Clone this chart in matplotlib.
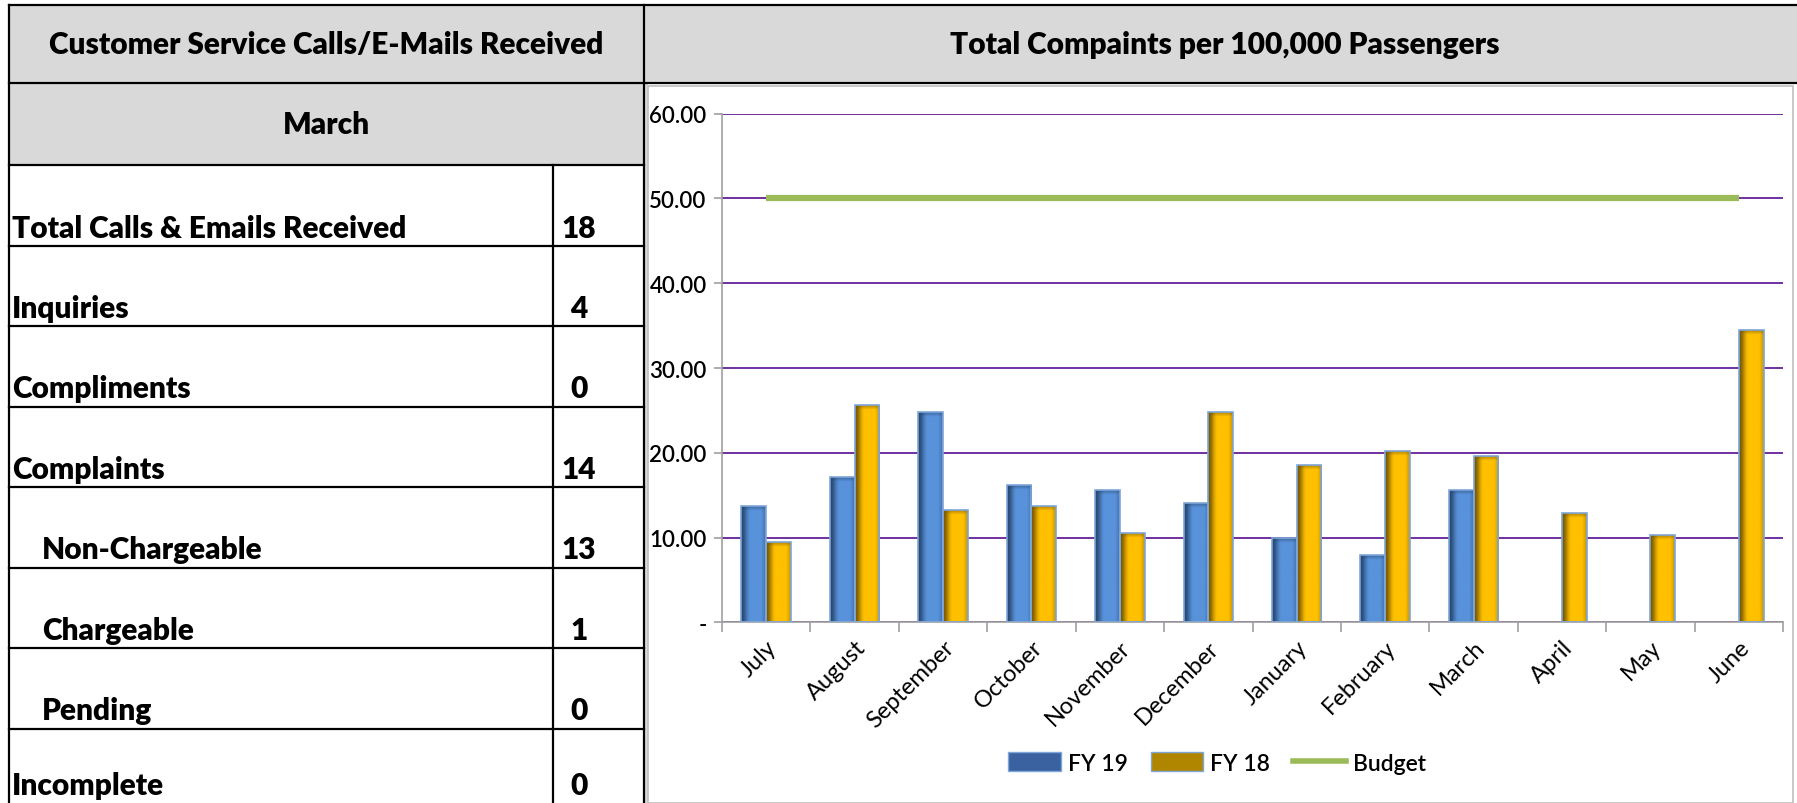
import numpy as np
import matplotlib
matplotlib.use("Agg")
import matplotlib.pyplot as plt
from matplotlib.patches import Rectangle, Patch
from matplotlib.lines import Line2D
from matplotlib.colors import to_rgb

plt.rcParams['font.family'] = ['Lato', 'DejaVu Sans']

# table data
table_title = "Customer Service Calls/E-Mails Received"
table_month = "March"
row_labels = ["Total Calls & Emails Received", "Inquiries", "Compliments", "Complaints",
              "Non-Chargeable", "Chargeable", "Pending", "Incomplete"]
row_values = [18, 4, 0, 14, 13, 1, 0, 0]
row_indent = [False, False, False, False, True, True, True, False]

# chart data
chart_title = "Total Compaints per 100,000 Passengers"
months = ["July", "August", "September", "October", "November", "December",
          "January", "February", "March", "April", "May", "June"]
fy19 = [13.7, 17.1, 24.8, 16.2, 15.6, 14.1, 10.0, 8.0, 15.6, np.nan, np.nan, np.nan]
fy18 = [9.5, 25.6, 13.3, 13.7, 10.6, 24.8, 18.6, 20.2, 19.6, 12.9, 10.3, 34.5]
budget = [50.0] * 12

W, H = 1797, 804
fig = plt.figure(figsize=(W / 100, H / 100), dpi=100)

# background layer in pixel coordinates for the table and panel frames
bg = fig.add_axes([0, 0, 1, 1])
bg.set_xlim(0, W)
bg.set_ylim(H, 0)
bg.axis('off')

grey = '#D9D9D9'
left, sep, right = 9, 553, 644
top, hdr_bot, month_bot = 6, 84, 166
row_h = (H + 6 - month_bot) / len(row_labels)

bg.add_patch(Rectangle((left, top), W - left, hdr_bot - top, facecolor=grey, edgecolor='none'))
bg.add_patch(Rectangle((left, hdr_bot), right - left, month_bot - hdr_bot, facecolor=grey, edgecolor='none'))
bg.add_patch(Rectangle((right, hdr_bot), 4, H - hdr_bot, facecolor=grey, edgecolor='none'))

lw = 1.6
bg.plot([left, W], [top, top], color='black', lw=lw)
bg.plot([left, W], [hdr_bot, hdr_bot], color='black', lw=lw)
bg.plot([left, right], [month_bot, month_bot], color='black', lw=lw)
bg.plot([left, left], [top, H], color='black', lw=lw)
bg.plot([right, right], [top, H], color='black', lw=lw)
bg.plot([sep, sep], [month_bot, H], color='black', lw=lw)

hfont = dict(fontsize=21.5, fontweight='heavy')
bg.text((left + right) / 2, (top + hdr_bot) / 2, table_title, ha='center', va='center', **hfont)
bg.text((left + right) / 2, (hdr_bot + month_bot) / 2, table_month, ha='center', va='center', **hfont)
bg.text((right + W) / 2 + 4, (top + hdr_bot) / 2, chart_title, ha='center', va='center', **hfont)

for i, (lab, val, ind) in enumerate(zip(row_labels, row_values, row_indent)):
    y_bot = month_bot + (i + 1) * row_h
    if i < len(row_labels) - 1:
        bg.plot([left, right], [y_bot, y_bot], color='black', lw=lw)
    base = min(y_bot, H) - 9
    bg.text(left + (33 if ind else 3), base, lab, ha='left', va='baseline',
            fontsize=21.5, fontweight='heavy')
    bg.text(579, base, str(val), ha='center', va='baseline', fontsize=21.5, fontweight='heavy')

# chart frame
bg.add_patch(Rectangle((648, 87), W - 4 - 648, H - 87, facecolor='white',
                       edgecolor='#BFBFBF', lw=1.2))

# chart axes
px0, px1, py0, py1 = 722, 1783, 114.6, 623.4
ax = fig.add_axes([px0 / W, 1 - py1 / H, (px1 - px0) / W, (py1 - py0) / H])
ax.set_facecolor('none')

x = np.arange(len(months))
bw = 0.28
edge = '#7EA6D8'
b19 = ax.bar(x - bw / 2, fy19, bw, facecolor='none', edgecolor=edge, lw=1.2, zorder=3)
b18 = ax.bar(x + bw / 2, fy18, bw, facecolor='none', edgecolor=edge, lw=1.2, zorder=3)


def shade(bars, dark, light):
    dark, light = np.array(to_rgb(dark)), np.array(to_rgb(light))
    t = np.linspace(0, 1, 48)
    w = np.clip(t / 0.38, 0, 1)
    w = w * w * (3 - 2 * w)
    w = w - 0.4 * np.clip((t - 0.82) / 0.18, 0, 1)
    row = dark + (light - dark) * w[:, None]
    for b in bars:
        x0, y0, bwid, h = b.get_x(), b.get_y(), b.get_width(), b.get_height()
        if not np.isfinite(h) or h <= 0:
            continue
        n = max(int(h * 10), 4)
        v = np.ones(n)
        k = min(7, n // 2)
        v[:k] = np.linspace(0.35, 1.0, k)
        img = row[None, :, :] * v[:, None, None] + dark[None, None, :] * (1 - v[:, None, None])
        img = np.clip(img, 0, 1)
        im = ax.imshow(img, extent=(x0, x0 + bwid, y0, y0 + h), aspect='auto',
                       interpolation='bilinear', zorder=2)
        im.set_clip_path(b)


shade(b19, '#27466F', '#5892DA')
shade(b18, '#765800', '#FFC000')

ax.plot(x, budget, color='#9BBB59', lw=4.5, solid_capstyle='butt', zorder=4)

ax.set_xlim(-0.5, len(months) - 0.5)
ax.set_ylim(0, 60)
ax.set_yticks(np.arange(0, 61, 10))
ax.set_yticklabels(['-' if v == 0 else f'{v:.2f}' for v in np.arange(0, 61, 10)])
ax.set_xticks(x)
ax.set_xticklabels(months, rotation=45, ha='right', rotation_mode='anchor')
ax.set_xticks(np.arange(-0.5, len(months)), minor=True)
ax.tick_params(axis='x', which='major', length=0, pad=10, labelsize=17)
ax.tick_params(axis='x', which='minor', length=7, color='#A0A0A0', width=1.2)
ax.tick_params(axis='y', length=6, color='#A0A0A0', width=1.2, labelsize=16, pad=5)
for lab in ax.get_yticklabels():
    lab.set_fontweight('semibold')

ax.yaxis.grid(True, color='#7030A0', lw=1.4)
ax.set_axisbelow(True)
for s in ['top', 'right']:
    ax.spines[s].set_visible(False)
for s in ['left', 'bottom']:
    ax.spines[s].set_color('#A0A0A0')
    ax.spines[s].set_linewidth(1.2)

handles = [Patch(facecolor='#3A62A0', edgecolor=edge, label='FY 19'),
           Patch(facecolor='#B08600', edgecolor=edge, label='FY 18'),
           Line2D([0], [0], color='#9BBB59', lw=4, label='Budget')]
fig.legend(handles=handles, loc='center', bbox_to_anchor=(1217 / W, 1 - 764 / H), ncol=3,
           frameon=False, prop={'size': 16.5, 'weight': 'semibold'}, handlelength=2.3,
           handleheight=0.9, columnspacing=1.0, handletextpad=0.3)

fig.savefig('out.png', dpi=100)
